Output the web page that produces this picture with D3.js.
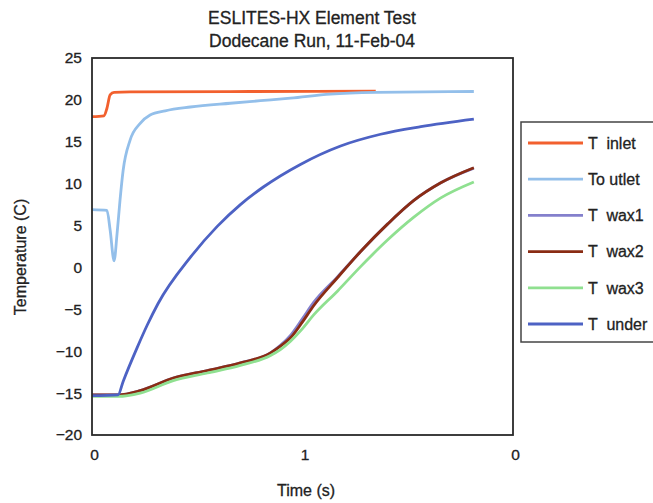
<!DOCTYPE html>
<html>
<head>
<meta charset="utf-8">
<script src="https://cdn.jsdelivr.net/npm/d3@7/dist/d3.min.js"></script>
<style>
  html, body { margin: 0; padding: 0; background: #fff; }
  svg { display: block; font-family: "Liberation Sans", Arial, sans-serif; }
</style>
</head>
<body>
<div id="chart"></div>
<script>
// chart values
const titleLines = ['ESLITES-HX Element Test', 'Dodecane Run, 11-Feb-04'];
const xTickValues = [0, 1, 2];
const xTickLabels = ['0', '1', '0'];
const yTickValues = [25, 20, 15, 10, 5, 0, -5, -10, -15, -20];

const inletTime = [0, 0.057, 0.071, 0.086, 0.105, 0.181, 0.752, 1.348];
const inletTemp = [18.0, 18.1, 19.0, 20.6, 20.9, 20.95, 21.0, 21.05];

const outletTime = [0, 0.071, 0.086, 0.105, 0.119, 0.133, 0.148, 0.181, 0.229, 0.276, 0.348, 0.467, 0.657, 0.8, 0.943, 1.133, 1.348, 1.814];
const outletTemp = [6.9, 6.8, 4.5, 0.8, 4.0, 8.0, 11.6, 15.2, 17.2, 18.2, 18.7, 19.15, 19.6, 19.9, 20.2, 20.7, 20.9, 21.0];

const waxTime = [0, 0.124, 0.229, 0.386, 0.548, 0.705, 0.848, 0.895, 0.943, 1.0, 1.052, 1.167, 1.276, 1.405, 1.529, 1.657, 1.814];
const wax1Temp = [-15.2, -15.2, -14.7, -13.2, -12.3, -11.4, -10.2, -9.3, -8.1, -6.1, -4.2, -1.1, 1.9, 5.2, 8.0, 10.1, 11.85];
const wax2Temp = [-15.2, -15.2, -14.7, -13.2, -12.3, -11.4, -10.2, -9.4, -8.4, -6.5, -4.6, -1.2, 1.9, 5.2, 8.0, 10.1, 11.9];
const wax3Temp = [-15.4, -15.4, -15.0, -13.5, -12.6, -11.7, -10.5, -9.8, -8.8, -7.3, -5.7, -2.8, 0.1, 3.3, 6.0, 8.3, 10.2];

const underTime = [0, 0.124, 0.148, 0.214, 0.262, 0.314, 0.467, 0.595, 0.705, 0.814, 0.99, 1.181, 1.371, 1.562, 1.814];
const underTemp = [-15.3, -15.2, -13.6, -9.6, -6.9, -4.3, 1.2, 4.9, 7.5, 9.6, 12.3, 14.5, 15.9, 16.8, 17.7];

const seriesNames = ['T  inlet', 'To utlet', 'T  wax1', 'T  wax2', 'T  wax3', 'T  under'];
const seriesColors = ['#f2602e', '#93bfea', '#8480cc', '#8a2c14', '#8fe090', '#4d62c4'];

const width = 653;
const height = 503;
const plot = { left: 92, top: 58, right: 513, bottom: 435 };

const svg = d3.select('#chart')
  .append('svg')
  .attr('width', width)
  .attr('height', height)
  .style('background', '#fff');

const x = d3.scaleLinear().domain([0, 2]).range([plot.left, plot.right]);
const y = d3.scaleLinear().domain([-20, 25]).range([plot.bottom, plot.top]);

function zipSeries(times, temps) {
  return times.map((t, i) => ({ t: t, v: temps[i] }));
}

const series = [
  zipSeries(inletTime, inletTemp),
  zipSeries(outletTime, outletTemp),
  zipSeries(waxTime, wax1Temp),
  zipSeries(waxTime, wax2Temp),
  zipSeries(waxTime, wax3Temp),
  zipSeries(underTime, underTemp)
];

// scanned text looks a bit heavier than plain Arial
function inkText(sel) {
  sel.style('fill', '#222')
    .style('stroke', '#222')
    .style('stroke-width', 0.3);
}

// title
svg.append('g')
  .selectAll('text')
  .data(titleLines)
  .enter()
  .append('text')
  .attr('x', 312)
  .attr('y', (d, i) => 24 + i * 23)
  .attr('text-anchor', 'middle')
  .style('font-size', '17.5px')
  .call(inkText)
  .text(d => d);

// axes (labels only, no tick marks)
const yAxis = d3.axisLeft(y)
  .tickValues(yTickValues)
  .tickSize(0)
  .tickPadding(10)
  .tickFormat(d => d < 0 ? '\u2212' + Math.abs(d) : String(d));

svg.append('g')
  .attr('transform', `translate(${plot.left},0)`)
  .call(yAxis)
  .call(g => g.select('.domain').remove())
  .selectAll('text')
  .style('font-size', '15.5px')
  .style('font-family', '"Liberation Sans", Arial, sans-serif')
  .call(inkText);

const xAxis = d3.axisBottom(x)
  .tickValues(xTickValues)
  .tickSize(0)
  .tickPadding(14)
  .tickFormat((d, i) => xTickLabels[i]);

svg.append('g')
  .attr('transform', `translate(2,${plot.bottom})`)
  .call(xAxis)
  .call(g => g.select('.domain').remove())
  .selectAll('text')
  .style('font-size', '15.5px')
  .style('font-family', '"Liberation Sans", Arial, sans-serif')
  .call(inkText);

// axis titles
svg.append('text')
  .attr('transform', 'translate(26,257) rotate(-90)')
  .attr('text-anchor', 'middle')
  .style('font-size', '16px')
  .call(inkText)
  .text('Temperature (C)');

svg.append('text')
  .attr('x', 306)
  .attr('y', 496)
  .attr('text-anchor', 'middle')
  .style('font-size', '16px')
  .call(inkText)
  .text('Time (s)');

// data lines
const line = d3.line()
  .x(d => x(d.t))
  .y(d => y(d.v))
  .curve(d3.curveMonotoneX);

svg.append('g')
  .selectAll('path')
  .data(series)
  .enter()
  .append('path')
  .attr('d', line)
  .style('fill', 'none')
  .style('stroke', (d, i) => seriesColors[i])
  .style('stroke-width', 2.8)
  .style('stroke-linejoin', 'round');

// plot frame
svg.append('rect')
  .attr('x', plot.left)
  .attr('y', plot.top)
  .attr('width', plot.right - plot.left)
  .attr('height', plot.bottom - plot.top)
  .style('fill', 'none')
  .style('stroke', '#2a2a2a')
  .style('stroke-width', 1.8);

// legend
const legend = svg.append('g').attr('transform', 'translate(521,122)');

legend.append('rect')
  .attr('width', 160)
  .attr('height', 220)
  .style('fill', '#fff')
  .style('stroke', '#444')
  .style('stroke-width', 1.5);

const rows = legend.selectAll('.legend-row')
  .data(seriesNames)
  .enter()
  .append('g')
  .attr('class', 'legend-row')
  .attr('transform', (d, i) => `translate(0,${21 + i * 36.2})`);

rows.append('line')
  .attr('x1', 7)
  .attr('x2', 62)
  .style('stroke', (d, i) => seriesColors[i])
  .style('stroke-width', 2.8);

rows.append('text')
  .attr('x', 67)
  .attr('dy', '0.36em')
  .style('font-size', '16px')
  .style('white-space', 'pre')
  .attr('xml:space', 'preserve')
  .call(inkText)
  .text(d => d);
</script>
</body>
</html>
